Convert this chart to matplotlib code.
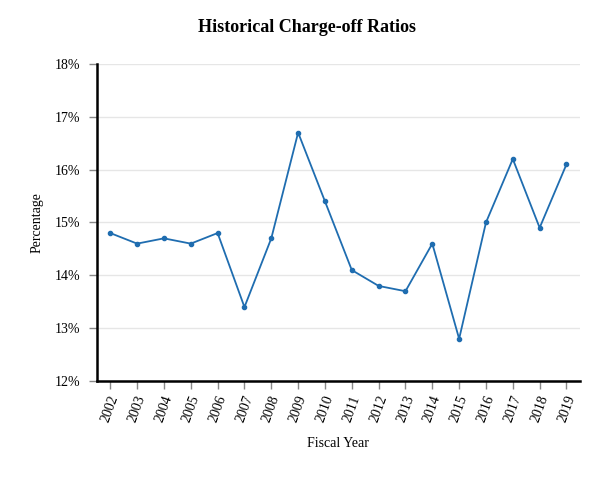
#Import required libraries
import matplotlib
matplotlib.use("Agg")
import matplotlib.pyplot as plt
from matplotlib.ticker import FuncFormatter

#Chart data
years = [2002, 2003, 2004, 2005, 2006, 2007, 2008, 2009, 2010,
         2011, 2012, 2013, 2014, 2015, 2016, 2017, 2018, 2019]
ratios = [14.8, 14.6, 14.7, 14.6, 14.8, 13.4, 14.7, 16.7, 15.4,
          14.1, 13.8, 13.7, 14.6, 12.8, 15.0, 16.2, 14.9, 16.1]
y_ticks = [12, 13, 14, 15, 16, 17, 18]

plt.rcParams['font.family'] = ['Liberation Serif', 'DejaVu Serif']

fig = plt.figure(figsize=(6.13, 4.8), dpi=100)
ax = fig.add_axes([0.158, 0.206, 0.788, 0.661])

#Gridlines
for t in y_ticks:
    ax.axhline(t, color='#e6e6e6', linewidth=1, zorder=0)

ax.plot(years, ratios, color='#1f6db0', linewidth=1.3, marker='o',
        markersize=3, zorder=3)

ax.set_xlim(years[0] - 0.5, years[-1] + 0.5)
ax.set_ylim(12, 18)
ax.set_xticks(years)
ax.set_xticklabels([str(y) for y in years], rotation=70, ha='center')
ax.set_yticks(y_ticks)
ax.yaxis.set_major_formatter(FuncFormatter(lambda v, p: f"{v:.0f}%"))

#Axis styling
for side in ['top', 'right']:
    ax.spines[side].set_visible(False)
for side in ['left', 'bottom']:
    ax.spines[side].set_linewidth(1.8)
    ax.spines[side].set_color('black')
ax.tick_params(axis='both', length=6, width=1, color='#888888',
               labelsize=10, labelcolor='black')
ax.tick_params(axis='y', pad=6)
ax.tick_params(axis='x', pad=3)

ax.set_xlabel('Fiscal Year', fontsize=10, labelpad=9)
ax.set_ylabel('Percentage', fontsize=10, labelpad=8)
fig.suptitle('Historical Charge-off Ratios', fontsize=13, fontweight='bold', y=0.96)

plt.savefig('out.png', dpi=100)
